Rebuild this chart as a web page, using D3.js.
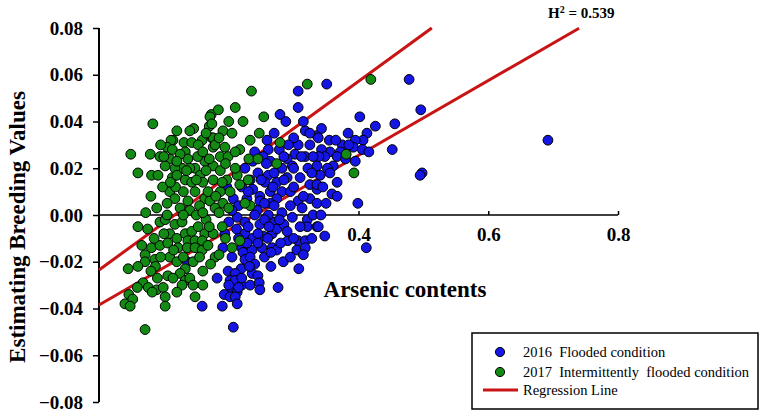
<!DOCTYPE html>
<html>
<head>
<meta charset="utf-8">
<script src="https://cdn.jsdelivr.net/npm/d3@7"></script>
<style>
  body { margin: 0; background: #fff; }
  svg { display: block; font-family: "Liberation Serif", "Times New Roman", serif; }
</style>
</head>
<body>
<svg id="chart" width="765" height="414"></svg>
<script>
// 2016 flooded condition  [arsenic, breeding value]
var blue2016 = [
  [0.136,-0.020],[0.159,-0.039],
  [0.307,0.053],[0.307,0.046],[0.279,0.043],[0.288,0.040],[0.318,0.036],[0.336,0.034],[0.259,0.032],[0.261,0.028],
  [0.278,0.028],[0.307,0.030],[0.325,0.030],[0.302,0.026],[0.318,0.025],[0.290,0.024],[0.253,0.025],[0.237,0.023],
  [0.264,0.023],[0.282,0.020],[0.298,0.021],[0.322,0.020],[0.336,0.021],[0.225,0.020],[0.245,0.018],[0.261,0.017],
  [0.310,0.016],[0.290,0.016],[0.233,0.015],[0.256,0.014],[0.274,0.014],[0.325,0.013],[0.220,0.012],[0.237,0.011],
  [0.264,0.010],[0.282,0.010],[0.295,0.010],[0.336,0.011],[0.248,0.008],[0.228,0.007],[0.274,0.007],[0.307,0.006],
  [0.325,0.007],
  [0.207,0.007],[0.248,0.006],[0.264,0.005],[0.213,-0.001],[0.244,0.002],[0.261,0.000],[0.282,0.001],[0.298,-0.001],
  [0.313,0.003],[0.321,-0.002],[0.321,-0.005],[0.336,-0.005],[0.225,-0.003],[0.248,-0.004],[0.271,-0.003],[0.267,-0.008],
  [0.274,-0.006],[0.194,-0.008],[0.225,-0.008],[0.237,-0.010],[0.253,-0.009],[0.291,-0.011],[0.307,-0.011],[0.318,-0.011],
  [0.191,-0.014],[0.220,-0.014],[0.251,-0.014],[0.267,-0.014],[0.274,-0.015],[0.305,-0.015],[0.318,-0.014],[0.222,-0.016],
  [0.236,-0.015],[0.225,-0.019],[0.233,-0.018],[0.284,-0.020],[0.315,-0.017],[0.265,-0.022],[0.308,-0.023],[0.219,-0.023],
  [0.199,-0.024],[0.182,-0.027],[0.210,-0.025],[0.236,-0.025],[0.245,-0.026],[0.202,-0.028],[0.210,-0.028],[0.220,-0.030],
  [0.233,-0.030],[0.247,-0.029],[0.248,-0.032],[0.276,-0.031],[0.205,-0.032],[0.213,-0.033],[0.193,-0.034],[0.202,-0.035],
  [0.210,-0.035],[0.213,-0.038],[0.190,-0.039],[0.207,-0.048],
  [0.351,0.056],[0.478,0.058],[0.496,0.045],[0.402,0.042],[0.426,0.038],[0.456,0.039],[0.343,0.037],[0.384,0.035],
  [0.413,0.035],[0.407,0.032],[0.395,0.032],[0.355,0.032],[0.338,0.033],[0.375,0.030],[0.392,0.029],[0.406,0.028],
  [0.416,0.027],[0.452,0.028],[0.356,0.027],[0.343,0.028],[0.372,0.027],[0.367,0.025],[0.348,0.025],[0.339,0.025],
  [0.395,0.023],[0.361,0.021],[0.352,0.020],[0.356,0.018],[0.341,0.017],[0.498,0.018],[0.495,0.017],[0.367,0.014],
  [0.336,0.013],[0.359,0.009],[0.367,0.008],[0.336,0.005],[0.399,0.005],
  [0.338,-0.005],[0.348,-0.009],[0.412,-0.014],
  [0.692,0.032],
  [0.240,0.000],[0.255,-0.002],[0.285,-0.004],[0.300,0.012],[0.315,0.008],[0.270,0.018],[0.285,0.025],[0.300,0.033],
  [0.270,0.035],[0.255,0.005],[0.230,-0.005],[0.245,-0.008],[0.260,-0.010],[0.290,-0.007],[0.215,0.004],[0.330,0.025],
  [0.330,0.000],[0.295,-0.018],[0.280,-0.012],[0.215,-0.010],[0.205,-0.018],[0.240,-0.021],[0.197,0.012],[0.205,0.002],
  [0.230,0.010],[0.250,0.015],[0.268,0.012],[0.285,0.015],[0.300,0.020],[0.312,0.025],[0.328,0.018],[0.345,0.012],
  [0.350,0.005],[0.310,-0.005],[0.295,0.004],[0.278,-0.002],[0.262,-0.005],[0.245,-0.012],[0.228,-0.012],[0.212,-0.006],
  [0.200,-0.003],[0.258,0.022],[0.240,0.027],[0.292,0.030],[0.315,0.040],[0.270,0.004],[0.232,-0.022],[0.220,-0.027],
  [0.215,-0.031],[0.200,-0.030],[0.255,-0.018],[0.265,-0.016],[0.300,-0.010],[0.328,-0.010],[0.342,0.000],[0.380,0.024],
  [0.365,0.032],[0.385,0.030],[0.325,0.035]
];

// 2017 intermittently flooded condition
var green2017 = [
  [0.083,0.039],[0.146,0.037],[0.173,0.043],[0.170,0.038],[0.049,0.026],[0.079,0.026],[0.094,0.025],[0.060,0.018],
  [0.081,0.017],[0.091,0.017],[0.080,0.008],[0.114,0.032],[0.111,0.032],[0.105,0.029],[0.113,0.028],[0.131,0.031],
  [0.143,0.031],[0.159,0.032],[0.153,0.030],[0.133,0.027],[0.137,0.024],[0.163,0.023],[0.109,0.024],[0.102,0.021],
  [0.128,0.020],[0.148,0.020],[0.117,0.020],[0.113,0.016],[0.120,0.017],[0.133,0.015],[0.156,0.017],[0.143,0.014],
  [0.160,0.014],[0.109,0.010],[0.130,0.010],[0.148,0.010],[0.117,0.007],[0.137,0.006],[0.163,0.007],[0.174,0.033],
  [0.176,0.029],
  [0.072,0.001],[0.089,0.003],[0.060,-0.005],[0.094,-0.003],[0.102,-0.002],[0.117,-0.004],[0.109,-0.008],[0.120,-0.010],
  [0.133,-0.008],[0.143,-0.007],[0.153,-0.005],[0.163,-0.008],[0.137,-0.011],[0.148,-0.011],[0.159,-0.011],[0.066,-0.013],
  [0.081,-0.014],[0.094,-0.013],[0.106,-0.012],[0.122,-0.014],[0.136,-0.014],[0.148,-0.014],[0.159,-0.015],[0.071,-0.017],
  [0.086,-0.019],[0.071,-0.020],[0.109,-0.018],[0.087,-0.022],[0.120,-0.020],[0.045,-0.023],[0.133,-0.023],[0.160,-0.024],
  [0.106,-0.026],[0.125,-0.025],[0.133,-0.028],[0.140,-0.027],[0.128,-0.030],[0.145,-0.030],[0.068,-0.029],[0.059,-0.031],
  [0.076,-0.031],[0.089,-0.032],[0.099,-0.031],[0.082,-0.033],[0.046,-0.034],[0.052,-0.036],[0.102,-0.035],[0.040,-0.038],
  [0.048,-0.039],[0.102,-0.039],[0.148,-0.035],[0.071,-0.049],
  [0.235,0.053],[0.321,0.056],[0.210,0.046],[0.184,0.045],[0.222,0.040],[0.254,0.042],[0.171,0.042],[0.174,0.039],
  [0.191,0.036],[0.205,0.035],[0.247,0.035],[0.233,0.032],[0.176,0.033],[0.179,0.030],[0.194,0.029],[0.217,0.028],
  [0.279,0.031],[0.187,0.025],[0.199,0.025],[0.210,0.027],[0.231,0.024],[0.245,0.024],[0.274,0.022],[0.176,0.021],
  [0.187,0.019],[0.213,0.017],[0.197,0.015],[0.176,0.015],[0.202,0.010],[0.187,0.010],[0.217,0.013],
  [0.171,0.006],[0.191,0.005],[0.179,0.003],[0.190,-0.005],[0.176,-0.008],[0.217,-0.011],[0.179,-0.018],[0.233,0.004],
  [0.225,0.005],
  [0.419,0.058],[0.381,0.026],[0.393,0.018],
  [0.098,0.012],[0.105,0.005],[0.125,0.003],[0.140,0.002],[0.155,0.004],[0.168,0.010],[0.100,-0.008],[0.128,-0.003],
  [0.150,0.000],[0.165,-0.002],[0.118,0.012],[0.140,0.020],[0.152,0.025],[0.125,0.026],[0.095,0.030],[0.165,0.019],
  [0.180,0.008],[0.185,0.001],[0.200,0.003],[0.195,-0.010],[0.205,-0.014],[0.168,-0.013],[0.172,-0.021],[0.185,-0.017],
  [0.114,-0.027],[0.120,-0.033],[0.090,-0.027],[0.160,-0.030],[0.170,-0.005],[0.210,0.020],[0.230,0.015],
  [0.100,0.025],[0.120,0.023],[0.135,0.019],[0.150,0.015],[0.160,0.027],[0.170,0.024],[0.185,0.033],[0.195,0.022],
  [0.105,0.000],[0.115,-0.015],[0.130,-0.018],[0.145,-0.020],[0.155,-0.018],[0.095,-0.018],[0.080,-0.024],[0.060,-0.022],
  [0.075,-0.006],[0.085,-0.010],[0.130,0.000],[0.160,0.001],[0.110,0.014],[0.190,0.014],[0.200,0.040],[0.165,0.035],
  [0.140,0.036],[0.120,0.036]
];

// regression lines (intercept, slope, last x)
var regressions = [
  {a: -0.0235, b: 0.2017, xEnd: 0.513},
  {a: -0.0385, b: 0.160, xEnd: 0.740}
];

var xTicks = [0.4, 0.6, 0.8];
var yTicks = [-0.08, -0.06, -0.04, -0.02, 0, 0.02, 0.04, 0.06, 0.08];
var legendItems = ["2016  Flooded condition", "2017  Intermittently  flooded condition", "Regression Line"];

var colBlue = "#1515e6", colGreen = "#138a13", colRed = "#c81414";

var svg = d3.select("#chart");

var x = d3.scaleLinear().domain([0, 0.8]).range([99, 618]);
var y = d3.scaleLinear().domain([-0.08, 0.08]).range([402, 28]);

// y axis
var yAxis = svg.append("g")
    .attr("transform", "translate(" + x(0) + ",0)")
    .call(d3.axisLeft(y).tickValues(yTicks).tickSize(6).tickPadding(10)
      .tickFormat(d3.format(".2f")));
yAxis.attr("font-family", "Liberation Serif");
yAxis.select(".domain").attr("stroke-width", 2).attr("d", "M0," + y(-0.08) + "V" + y(0.08));
yAxis.selectAll(".tick line").attr("stroke-width", 1.5);
yAxis.selectAll("text").attr("font-size", 19).attr("font-weight", "bold").attr("fill", "#000");

// x axis through y = 0
var xAxis = svg.append("g")
    .attr("transform", "translate(0," + y(0) + ")")
    .call(d3.axisBottom(x).tickValues(xTicks).tickSize(-4).tickPadding(9)
      .tickFormat(d3.format(".1f")));
xAxis.attr("font-family", "Liberation Serif");
xAxis.select(".domain").attr("stroke-width", 1.5).attr("d", "M" + x(0) + ",0H" + x(0.8));
xAxis.selectAll(".tick line").attr("stroke-width", 1.5);
xAxis.selectAll("text").attr("font-size", 19).attr("font-weight", "bold")
    .attr("fill", "#000").attr("dy", "0.9em");

// regression lines
svg.append("g").selectAll("line")
    .data(regressions)
  .enter().append("line")
    .attr("x1", x(0))
    .attr("y1", function(d) { return y(d.a); })
    .attr("x2", function(d) { return x(d.xEnd); })
    .attr("y2", function(d) { return y(d.a + d.b * d.xEnd); })
    .attr("stroke", colRed)
    .attr("stroke-width", 3);

// points
function dots(data, fill) {
  svg.append("g").selectAll("circle")
      .data(data)
    .enter().append("circle")
      .attr("cx", function(d) { return x(d[0]); })
      .attr("cy", function(d) { return y(d[1]); })
      .attr("r", 4.9)
      .attr("fill", fill)
      .attr("stroke", "#000")
      .attr("stroke-width", 1);
}
dots(blue2016, colBlue);
dots(green2017, colGreen);

// axis titles
svg.append("text")
    .attr("x", 405).attr("y", 297)
    .attr("text-anchor", "middle")
    .attr("font-size", 23).attr("font-weight", "bold")
    .text("Arsenic contents");

svg.append("text")
    .attr("transform", "translate(25,227) rotate(-90)")
    .attr("text-anchor", "middle")
    .attr("font-size", 23).attr("font-weight", "bold")
    .text("Estimating Breeding Values");

// heritability
var h = svg.append("text")
    .attr("x", 548).attr("y", 18)
    .attr("font-size", 15).attr("font-weight", "bold");
h.append("tspan").text("H");
h.append("tspan").attr("font-size", 10).attr("dy", -5).text("2");
h.append("tspan").attr("dy", 5).text(" = 0.539");

// legend
var lg = svg.append("g");
lg.append("rect")
    .attr("x", 472).attr("y", 333).attr("width", 286).attr("height", 76)
    .attr("fill", "#fff").attr("stroke", "#000").attr("stroke-width", 1.5);
var rows = [352, 372, 390];
lg.append("circle").attr("cx", 500).attr("cy", rows[0]).attr("r", 4.6)
    .attr("fill", colBlue).attr("stroke", "#000");
lg.append("circle").attr("cx", 500).attr("cy", rows[1]).attr("r", 4.6)
    .attr("fill", colGreen).attr("stroke", "#000");
lg.append("line").attr("x1", 483).attr("x2", 518).attr("y1", rows[2]).attr("y2", rows[2])
    .attr("stroke", colRed).attr("stroke-width", 3);
lg.selectAll("text.item")
    .data(legendItems)
  .enter().append("text")
    .attr("class", "item")
    .attr("x", 523)
    .attr("y", function(d, i) { return rows[i] + 5; })
    .attr("font-size", 14.5)
    .attr("xml:space", "preserve")
    .style("white-space", "pre")
    .text(function(d) { return d; });
</script>
</body>
</html>
